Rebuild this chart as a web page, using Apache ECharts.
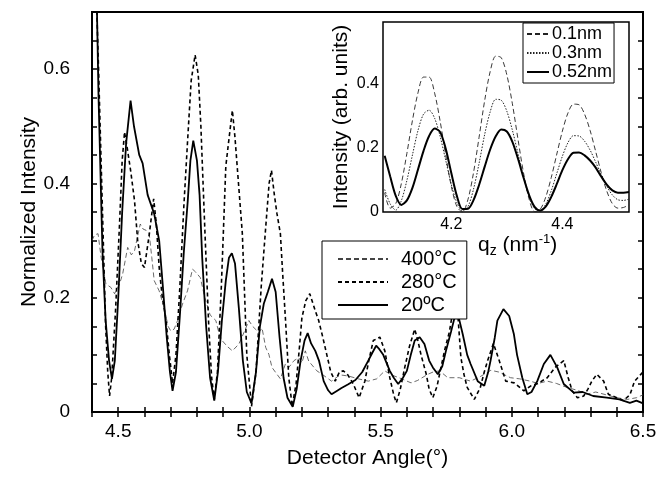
<!DOCTYPE html>
<html>
<head>
<meta charset="utf-8">
<script src="https://cdn.jsdelivr.net/npm/echarts@6/dist/echarts.min.js"></script>
<style>
html,body{margin:0;padding:0;background:#fff;}
#chart{width:670px;height:478px;}
</style>
</head>
<body>
<div id="chart"></div>
<script>
// ---------- Main plot data (Detector angle in degrees, normalized intensity) ----------
var seriesNames = ['400\u00b0C', '280\u00b0C', '20\u00baC'];

var angle400 = [4.40,4.41,4.423,4.435,4.442,4.453,4.472,4.486,4.505,4.517,4.536,4.55,4.562,4.575,4.584,4.595,4.606,4.618,4.628,4.637,4.656,4.675,4.69,4.70,4.713,4.726,4.745,4.764,4.783,4.795,4.813,4.83,4.85,4.872,4.885,4.896,4.915,4.935,4.96,4.98,4.998,5.012,5.036,5.048,5.062,5.074,5.086,5.105,5.118,5.137,5.15,5.17,5.188,5.20,5.213,5.226,5.257,5.28,5.313,5.345,5.377,5.415,5.453,5.485,5.516,5.54,5.57,5.616,5.64,5.68,5.70,5.725,5.756,5.80,5.843,5.88,5.92,5.95,5.995,6.03,6.07,6.10,6.135,6.17,6.21,6.25,6.286,6.32,6.36,6.40,6.44,6.475,6.50];
var int400   = [0.30,0.31,0.312,0.27,0.253,0.224,0.218,0.207,0.224,0.242,0.288,0.275,0.282,0.31,0.329,0.32,0.318,0.312,0.27,0.23,0.212,0.182,0.15,0.142,0.145,0.16,0.189,0.212,0.25,0.245,0.235,0.20,0.17,0.16,0.136,0.125,0.115,0.107,0.119,0.14,0.16,0.15,0.139,0.147,0.113,0.101,0.078,0.066,0.058,0.084,0.078,0.09,0.095,0.086,0.107,0.089,0.072,0.065,0.054,0.065,0.063,0.058,0.054,0.058,0.072,0.065,0.06,0.051,0.055,0.066,0.07,0.072,0.06,0.06,0.054,0.062,0.073,0.07,0.06,0.058,0.054,0.05,0.054,0.05,0.043,0.038,0.031,0.035,0.03,0.025,0.022,0.025,0.03];

var angle280 = [4.412,4.425,4.44,4.452,4.46,4.467,4.475,4.49,4.505,4.515,4.524,4.535,4.548,4.562,4.574,4.588,4.60,4.618,4.635,4.645,4.656,4.668,4.681,4.695,4.707,4.72,4.735,4.75,4.765,4.778,4.793,4.805,4.815,4.83,4.845,4.856,4.866,4.878,4.893,4.91,4.92,4.935,4.945,4.955,4.973,4.99,5.008,5.025,5.045,5.062,5.075,5.084,5.095,5.105,5.118,5.127,5.137,5.15,5.163,5.178,5.19,5.20,5.215,5.23,5.251,5.264,5.28,5.295,5.31,5.327,5.343,5.358,5.375,5.396,5.418,5.44,5.455,5.472,5.497,5.516,5.535,5.55,5.56,5.575,5.592,5.61,5.63,5.642,5.654,5.674,5.685,5.699,5.715,5.73,5.745,5.762,5.78,5.792,5.806,5.818,5.83,5.857,5.88,5.895,5.908,5.93,5.952,5.977,6.009,6.046,6.07,6.10,6.135,6.165,6.198,6.215,6.23,6.25,6.274,6.29,6.305,6.324,6.35,6.368,6.40,6.425,6.45,6.468,6.49,6.50];
var int280   = [0.80,0.60,0.35,0.15,0.07,0.028,0.06,0.18,0.33,0.44,0.49,0.46,0.42,0.37,0.30,0.26,0.253,0.31,0.373,0.33,0.253,0.20,0.165,0.10,0.05,0.10,0.22,0.36,0.48,0.58,0.625,0.59,0.50,0.32,0.15,0.06,0.022,0.07,0.22,0.43,0.47,0.528,0.48,0.42,0.312,0.10,0.01,0.07,0.22,0.323,0.40,0.423,0.38,0.347,0.312,0.24,0.165,0.06,0.01,0.05,0.11,0.165,0.195,0.207,0.177,0.16,0.13,0.10,0.07,0.054,0.07,0.072,0.065,0.049,0.025,0.054,0.09,0.125,0.131,0.107,0.06,0.03,0.016,0.04,0.078,0.115,0.145,0.125,0.10,0.066,0.04,0.025,0.045,0.078,0.11,0.14,0.19,0.185,0.095,0.065,0.043,0.022,0.043,0.07,0.09,0.12,0.09,0.054,0.051,0.037,0.045,0.05,0.06,0.078,0.09,0.06,0.037,0.025,0.028,0.04,0.054,0.066,0.054,0.031,0.025,0.02,0.03,0.054,0.065,0.07];

var angle20 = [4.415,4.425,4.44,4.452,4.465,4.476,4.487,4.50,4.515,4.53,4.547,4.56,4.58,4.593,4.612,4.637,4.656,4.67,4.685,4.697,4.707,4.72,4.735,4.75,4.765,4.775,4.786,4.80,4.81,4.82,4.835,4.85,4.866,4.88,4.895,4.91,4.922,4.933,4.945,4.96,4.975,4.99,5.008,5.025,5.04,5.055,5.07,5.086,5.10,5.115,5.13,5.145,5.165,5.18,5.195,5.21,5.222,5.235,5.251,5.265,5.283,5.30,5.313,5.33,5.351,5.375,5.404,5.43,5.453,5.47,5.483,5.495,5.51,5.535,5.55,5.567,5.585,5.60,5.615,5.63,5.649,5.667,5.685,5.699,5.718,5.735,5.749,5.768,5.79,5.813,5.83,5.843,5.87,5.895,5.91,5.919,5.935,5.945,5.968,5.99,6.008,6.02,6.04,6.059,6.075,6.097,6.122,6.147,6.173,6.198,6.236,6.27,6.31,6.362,6.41,6.45,6.475,6.50];
var int20   = [0.80,0.55,0.28,0.16,0.09,0.058,0.09,0.20,0.35,0.47,0.545,0.50,0.45,0.435,0.38,0.347,0.30,0.22,0.13,0.07,0.037,0.07,0.17,0.28,0.37,0.44,0.475,0.44,0.38,0.27,0.15,0.06,0.02,0.07,0.16,0.23,0.27,0.278,0.26,0.18,0.09,0.035,0.015,0.07,0.15,0.19,0.21,0.233,0.21,0.13,0.06,0.025,0.009,0.04,0.09,0.125,0.138,0.12,0.107,0.09,0.054,0.038,0.031,0.036,0.042,0.048,0.056,0.07,0.09,0.105,0.116,0.11,0.10,0.072,0.06,0.049,0.06,0.072,0.10,0.125,0.131,0.119,0.09,0.078,0.066,0.08,0.107,0.14,0.18,0.136,0.10,0.084,0.054,0.046,0.07,0.09,0.13,0.16,0.18,0.168,0.136,0.10,0.06,0.031,0.035,0.054,0.084,0.10,0.078,0.049,0.034,0.035,0.028,0.025,0.022,0.016,0.02,0.015];

// ---------- Inset data (q_z in nm^-1, intensity arb. units) ----------
var insetNames = ['0.1nm', '0.3nm', '0.52nm'];
var qz = [4.08,4.09,4.10,4.11,4.12,4.13,4.14,4.15,4.16,4.17,4.18,4.19,4.20,4.21,4.22,4.23,4.24,4.25,4.26,4.27,4.28,4.29,4.30,4.31,4.32,4.33,4.34,4.35,4.36,4.37,4.38,4.39,4.40,4.41,4.42,4.43,4.44,4.45,4.46,4.47,4.48,4.49,4.50,4.51,4.52];
var inset01  = [0.06,0.012,0.026,0.088,0.182,0.284,0.37,0.419,0.419,0.369,0.281,0.176,0.08,0.017,0.0,0.039,0.122,0.232,0.345,0.436,0.484,0.479,0.426,0.336,0.227,0.122,0.041,0.001,0.008,0.046,0.107,0.18,0.251,0.307,0.335,0.333,0.304,0.253,0.188,0.122,0.065,0.026,0.012,0.014,0.022];
var inset03  = [0.07,0.025,0.006,0.035,0.098,0.177,0.253,0.304,0.316,0.291,0.234,0.16,0.086,0.029,0.004,0.017,0.071,0.151,0.24,0.311,0.35,0.347,0.313,0.254,0.182,0.109,0.048,0.011,0.004,0.024,0.066,0.12,0.173,0.215,0.237,0.236,0.22,0.192,0.155,0.116,0.08,0.053,0.038,0.036,0.04];
var inset052 = [0.175,0.11,0.05,0.022,0.036,0.075,0.132,0.19,0.236,0.259,0.248,0.196,0.121,0.05,0.009,0.01,0.037,0.084,0.14,0.194,0.235,0.256,0.25,0.218,0.166,0.107,0.053,0.016,0.005,0.017,0.047,0.087,0.13,0.164,0.184,0.185,0.176,0.16,0.138,0.11,0.085,0.067,0.06,0.06,0.062];

// ---------- Tick labels ----------
var mainXLabels = [4.5, 5.0, 5.5, 6.0, 6.5];
var mainYLabels = [0, 0.2, 0.4, 0.6];
var insetXLabels = [4.2, 4.4];
var insetYLabels = [0, 0.2, 0.4];

function zip(a, b) { return a.map(function (v, i) { return [v, b[i]]; }); }
function inList(list, v) { return list.some(function (t) { return Math.abs(t - v) < 1e-6; }); }
function fmt(v) { return v === 0 ? '0' : v.toFixed(1); }

var FONT = '"Liberation Sans", Arial, Helvetica, sans-serif';

var chart = echarts.init(document.getElementById('chart'), null, { renderer: 'canvas' });

var mainTick = { show: true, inside: true, length: 5, lineStyle: { color: '#000', width: 1.5 } };

var option = {
  backgroundColor: '#fff',
  animation: false,
  textStyle: { fontFamily: FONT },
  grid: [
    { left: 92, top: 12, right: 27, bottom: 66, show: true, borderColor: '#000', borderWidth: 2, backgroundColor: 'transparent' },
    { left: 383, top: 22, right: 41, bottom: 266, show: true, borderColor: '#000', borderWidth: 1.5, backgroundColor: '#fff' }
  ],
  xAxis: [
    { type: 'value', gridIndex: 0, min: 4.4, max: 6.5, interval: 0.1, position: 'bottom',
      axisLine: { show: false }, splitLine: { show: false }, axisTick: mainTick,
      axisLabel: { color: '#000', fontSize: 19, fontFamily: FONT, margin: 10, showMinLabel: true, showMaxLabel: true,
        formatter: function (v) { return inList(mainXLabels, v) ? v.toFixed(1) : ''; } },
      name: 'Detector Angle(\u00b0)', nameLocation: 'middle', nameGap: 36,
      nameTextStyle: { color: '#000', fontSize: 21, fontFamily: FONT } },
    { type: 'value', gridIndex: 0, min: 4.4, max: 6.5, interval: 0.1, position: 'top',
      axisLine: { show: false }, splitLine: { show: false }, axisTick: mainTick, axisLabel: { show: false } },
    { type: 'value', gridIndex: 1, min: 4.077, max: 4.52,
      axisLine: { show: false }, splitLine: { show: false },
      axisTick: { show: false },
      axisLabel: { color: '#000', fontSize: 16, fontFamily: FONT, margin: 5, customValues: insetXLabels,
        formatter: function (v) { return v.toFixed(1); } } }
  ],
  yAxis: [
    { type: 'value', gridIndex: 0, min: 0, max: 0.7, interval: 0.05, position: 'left',
      axisLine: { show: false }, splitLine: { show: false }, axisTick: mainTick,
      axisLabel: { color: '#000', fontSize: 19, fontFamily: FONT, margin: 22,
        formatter: function (v) { return inList(mainYLabels, v) ? fmt(v) : ''; } },
      name: 'Normalized Intensity', nameLocation: 'middle', nameGap: 52, nameMoveOverlap: false,
      nameTextStyle: { color: '#000', fontSize: 21, fontFamily: FONT } },
    { type: 'value', gridIndex: 0, min: 0, max: 0.7, interval: 0.05, position: 'right',
      axisLine: { show: false }, splitLine: { show: false }, axisTick: mainTick, axisLabel: { show: false } },
    { type: 'value', gridIndex: 1, min: 0, max: 0.59,
      axisLine: { show: false }, splitLine: { show: false }, axisTick: { show: false },
      axisLabel: { color: '#000', fontSize: 16, fontFamily: FONT, margin: 4, customValues: insetYLabels,
        formatter: function (v) { return fmt(v); } },
      name: 'Intensity (arb. units)', nameLocation: 'middle', nameGap: 31,
      nameTextStyle: { color: '#000', fontSize: 21, fontFamily: FONT } }
  ],
  legend: [
    { data: seriesNames, orient: 'vertical', left: 322, top: 241,
      backgroundColor: '#fff', borderColor: '#000', borderWidth: 1,
      padding: [8, 10, 4, 15], itemWidth: 50, itemHeight: 14, itemGap: 3,
      itemStyle: { opacity: 0 }, selectedMode: false, z: 10,
      textStyle: { color: '#000', fontSize: 20, lineHeight: 20, fontFamily: FONT, padding: [0, 0, 0, 8] } },
    { data: insetNames, orient: 'vertical', left: 523, top: 23,
      backgroundColor: '#fff', borderColor: '#000', borderWidth: 1,
      padding: [2, 2, 2, 3], itemWidth: 22, itemHeight: 10, itemGap: 1,
      itemStyle: { opacity: 0 }, selectedMode: false, z: 10,
      textStyle: { color: '#000', fontSize: 18, lineHeight: 16, fontFamily: FONT, padding: [0, 0, 0, -2] } }
  ],
  graphic: [
    { type: 'text', left: 478, top: 232, z: 10,
      style: { text: '{q|q}{s|z}{t| (nm}{p|-1}{t|)}', fill: '#000',
        rich: { q: { fontSize: 21, fontFamily: FONT, fill: '#000', lineHeight: 22 },
                s: { fontSize: 14, fontFamily: FONT, fill: '#000', lineHeight: 22, padding: [12, 0, 0, 0] },
                t: { fontSize: 21, fontFamily: FONT, fill: '#000', lineHeight: 22 },
                p: { fontSize: 13, fontFamily: FONT, fill: '#000', lineHeight: 22, padding: [0, 0, 12, 0] } } } }
  ],
  series: [
    { name: seriesNames[0], type: 'line', xAxisIndex: 0, yAxisIndex: 0, data: zip(angle400, int400),
      showSymbol: false, symbol: 'none', clip: true,
      lineStyle: { color: '#444', width: 0.8, type: [5, 3] }, itemStyle: { color: '#444' } },
    { name: seriesNames[1], type: 'line', xAxisIndex: 0, yAxisIndex: 0, data: zip(angle280, int280),
      showSymbol: false, symbol: 'none', clip: true,
      lineStyle: { color: '#000', width: 1.6, type: [4, 3] }, itemStyle: { color: '#000' } },
    { name: seriesNames[2], type: 'line', xAxisIndex: 0, yAxisIndex: 0, data: zip(angle20, int20),
      showSymbol: false, symbol: 'none', clip: true,
      lineStyle: { color: '#000', width: 1.8, type: 'solid' }, itemStyle: { color: '#000' } },
    { name: insetNames[0], type: 'line', xAxisIndex: 2, yAxisIndex: 2, data: zip(qz, inset01),
      showSymbol: false, symbol: 'none', smooth: 0.3, clip: true,
      lineStyle: { color: '#222', width: 0.9, type: [5, 3] }, itemStyle: { color: '#222' } },
    { name: insetNames[1], type: 'line', xAxisIndex: 2, yAxisIndex: 2, data: zip(qz, inset03),
      showSymbol: false, symbol: 'none', smooth: 0.3, clip: true,
      lineStyle: { color: '#222', width: 1, type: [1.5, 1.5] }, itemStyle: { color: '#222' } },
    { name: insetNames[2], type: 'line', xAxisIndex: 2, yAxisIndex: 2, data: zip(qz, inset052),
      showSymbol: false, symbol: 'none', smooth: 0.3, clip: true,
      lineStyle: { color: '#000', width: 2, type: 'solid' }, itemStyle: { color: '#000' } }
  ]
};
chart.setOption(option);
</script>
</body>
</html>
